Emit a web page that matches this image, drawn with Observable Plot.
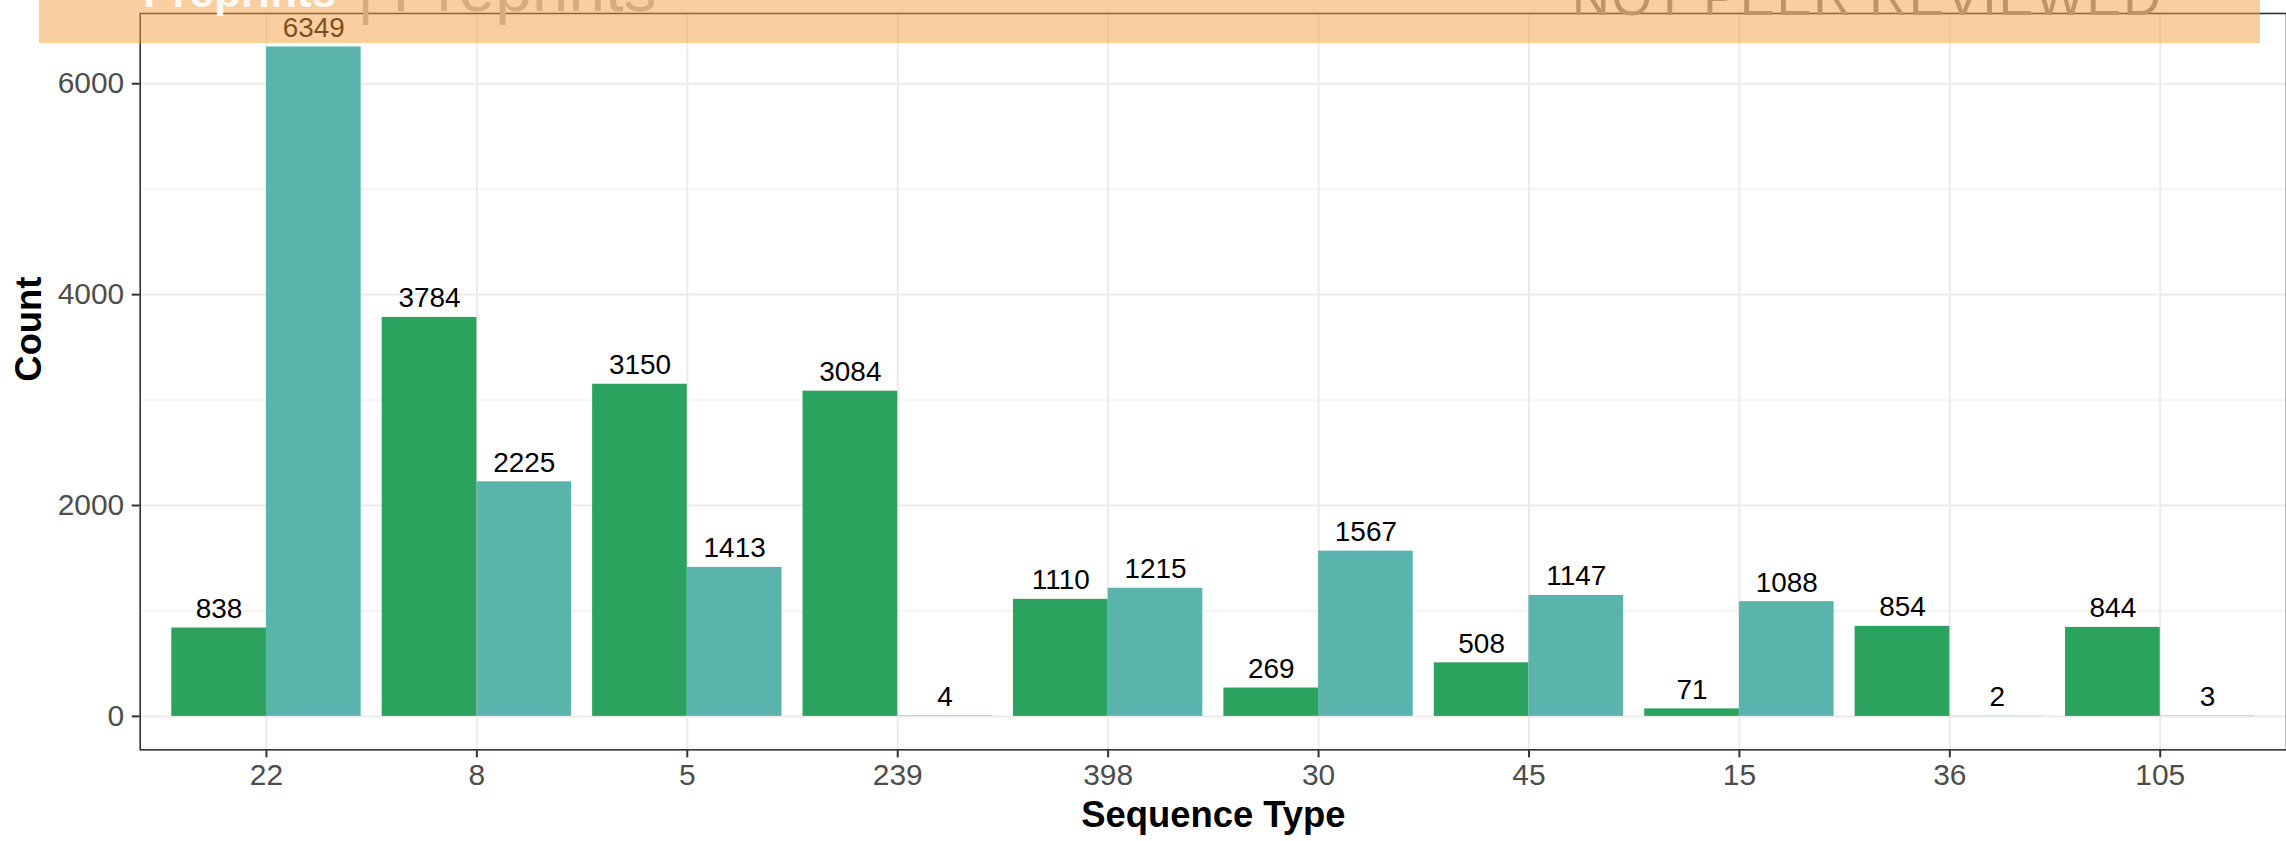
<!DOCTYPE html>
<html>
<head>
<meta charset="utf-8">
<script src="https://cdn.jsdelivr.net/npm/d3@7"></script>
<script src="https://cdn.jsdelivr.net/npm/@observablehq/plot@0.6"></script>
<style>
  html, body { margin: 0; padding: 0; background: #fff; overflow: hidden; }
  #wrap { position: relative; width: 2286px; height: 841px; overflow: hidden;
          font-family: "Liberation Sans", Arial, Helvetica, sans-serif; }
  #chart { position: absolute; left: 0; top: 0; }
  .wm { position: absolute; white-space: nowrap; line-height: 1; }
  #wm1 { left: 143px; top: -30px; font-size: 44px; font-weight: bold; color: #fff; opacity: 0.9; }
  #wm2 { left: 357px; top: -45px; font-size: 66px; color: #b9b9b9; }
  #wm3 { left: 1572px; top: -29px; font-size: 52px; color: #8a8a8a; letter-spacing: 2px; }
  #banner { position: absolute; left: 39px; top: 0; width: 2221px; height: 43px;
            background: rgba(245, 159, 63, 0.5); }
</style>
</head>
<body>
<div id="wrap">
  <div id="chart"></div>
  <div class="wm" id="wm2">| Preprints</div>
  <div class="wm" id="wm3">NOT PEER REVIEWED</div>
  <div id="banner"></div>
  <div class="wm" id="wm1">Preprints</div>
</div>
<script>
// ---- data ----
const categories = ["22", "8", "5", "239", "398", "30", "45", "15", "36", "105"];
const seriesNames = ["Series 1", "Series 2"];
const series1Values = [838, 3784, 3150, 3084, 1110, 269, 508, 71, 854, 844];
const series2Values = [6349, 2225, 1413, 4, 1215, 1567, 1147, 1088, 2, 3];
const yMajorTicks = [0, 2000, 4000, 6000];
const yMinorTicks = [1000, 3000, 5000];
const xTitle = "Sequence Type";
const yTitle = "Count";
const seriesColors = ["#2CA25F", "#5AB4AC"];

// discrete positions 1..n, dodged bars (ggplot-style width 0.9 split in two)
const positions = categories.map((c, i) => i + 1);
const half = 0.45;
const rows = categories.flatMap((c, i) => [
  {pos: positions[i], s: 0, series: seriesNames[0], value: series1Values[i]},
  {pos: positions[i], s: 1, series: seriesNames[1], value: series2Values[i]}
]);

const yMax = d3.max(rows, d => d.value);
const expand = yMax * 0.05;
const font = '"Liberation Sans", Arial, Helvetica, sans-serif';
const catLabel = p => categories[Math.round(p) - 1];

const chart = Plot.plot({
  width: 2291,
  height: 841,
  marginLeft: 140,
  marginRight: 0,
  marginTop: 13,
  marginBottom: 90,
  style: {fontFamily: font, background: "transparent", overflow: "visible"},
  x: {domain: [0.4, categories.length + 0.6], axis: null},
  y: {domain: [-expand, yMax + expand], axis: null},
  color: {domain: seriesNames, range: seriesColors},
  marks: [
    Plot.gridY({ticks: yMinorTicks, stroke: "#EBEBEB", strokeWidth: 1, strokeOpacity: 1}),
    Plot.gridY({ticks: yMajorTicks, stroke: "#EBEBEB", strokeWidth: 2, strokeOpacity: 1}),
    Plot.gridX({ticks: positions, stroke: "#EBEBEB", strokeWidth: 2, strokeOpacity: 1}),
    Plot.rectY(rows, {
      x1: d => d.s === 0 ? d.pos - half : d.pos,
      x2: d => d.s === 0 ? d.pos : d.pos + half,
      y: "value", fill: "series"
    }),
    Plot.text(rows, {
      x: d => d.s === 0 ? d.pos - half / 2 : d.pos + half / 2,
      y: "value", text: d => String(d.value),
      dy: -10, lineAnchor: "bottom", fontSize: 28, fill: "black"
    }),
    Plot.frame({stroke: "#333333", strokeWidth: 1.6}),
    Plot.axisY({ticks: yMajorTicks, tickFormat: d => String(d), tickSize: 8, tickPadding: 8,
      fontSize: 30, fill: "#4D4D4D", stroke: "#333333", strokeWidth: 2, label: null}),
    Plot.axisX({ticks: positions, tickFormat: catLabel, tickSize: 8, tickPadding: 6,
      fontSize: 30, fill: "#4D4D4D", stroke: "#333333", strokeWidth: 2, label: null}),
    Plot.text([xTitle], {frameAnchor: "bottom", dy: 66, lineAnchor: "middle",
      fontSize: 36.5, fontWeight: "bold", fill: "black"}),
    Plot.text([yTitle], {frameAnchor: "left", dx: -111, rotate: -90,
      lineAnchor: "middle", fontSize: 36.5, fontWeight: "bold", fill: "black"})
  ]
});
document.getElementById("chart").appendChild(chart);
</script>
</body>
</html>
